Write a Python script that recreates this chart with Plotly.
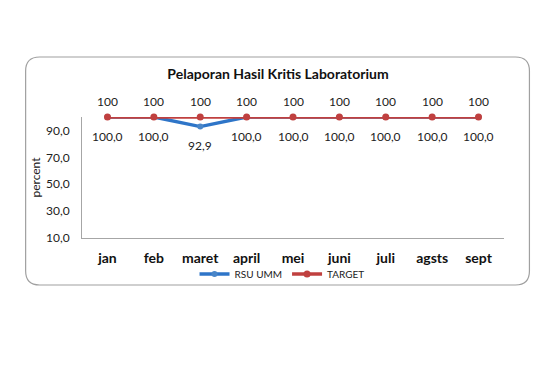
import plotly.graph_objects as go

months = ["jan", "feb", "maret", "april", "mei", "juni", "juli", "agsts", "sept"]
rsu_umm = [100.0, 100.0, 92.9, 100.0, 100.0, 100.0, 100.0, 100.0, 100.0]
target = [100, 100, 100, 100, 100, 100, 100, 100, 100]
y_ticks = [10, 30, 50, 70, 90]

OFF = 8  # page body margin
W, H = 560 - OFF, 370 - OFF
L, R, T, B = 81.5 - OFF, 504.5 - OFF, 117 - OFF, 238 - OFF
pw, ph = R - L, B - T

def px(x):
    return (x - OFF - L) / pw

def py(y):
    return (B - (y - OFF)) / ph

font = "Lato, 'Open Sans', sans-serif"

fig = go.Figure()
fig.add_trace(go.Scatter(
    x=months, y=rsu_umm, name="RSU UMM", mode="lines+markers",
    line=dict(color="#2E75C8", width=3.4),
    marker=dict(color="#4A86C8", size=6),
    cliponaxis=False,
))
fig.add_trace(go.Scatter(
    x=months, y=target, name="TARGET", mode="lines+markers",
    line=dict(color="#C0403F", width=3.4),
    marker=dict(color="#C0403F", size=7),
    cliponaxis=False,
))

annotations = []
for m, v in zip(months, rsu_umm):
    annotations.append(dict(x=m, y=v, xref="x", yref="y", showarrow=False,
                            text=f"{v:.1f}".replace(".", ","), yshift=-19,
                            font=dict(size=12, color="#222222", family=font)))
for m, v in zip(months, target):
    annotations.append(dict(x=m, y=v, xref="x", yref="y", showarrow=False,
                            text=str(v), yshift=16,
                            font=dict(size=12, color="#222222", family=font)))

# rounded chart border (screen pixel coords)
x0, x1, y0, y1, r = 25, 530, 57, 285, 14
def P(x, y):
    return f"{px(x):.5f},{py(y):.5f}"
path = (f"M {P(x0 + r, y0)} L {P(x1 - r, y0)} Q {P(x1, y0)} {P(x1, y0 + r)} "
        f"L {P(x1, y1 - r)} Q {P(x1, y1)} {P(x1 - r, y1)} "
        f"L {P(x0 + r, y1)} Q {P(x0, y1)} {P(x0, y1 - r)} "
        f"L {P(x0, y0 + r)} Q {P(x0, y0)} {P(x0 + r, y0)} Z")

fig.update_layout(
    width=W, height=H,
    margin=dict(l=L, r=W - R, t=T, b=H - B, autoexpand=False),
    paper_bgcolor="white", plot_bgcolor="white",
    separators=",.",
    font=dict(family=font, color="#222222"),
    title=dict(text="<b>Pelaporan Hasil Kritis Laboratorium</b>",
               x=(278 - OFF) / W, xanchor="center", xref="container",
               y=1 - (74 - OFF) / H, yanchor="middle", yref="container",
               font=dict(size=14, color="#111111", family=font)),
    xaxis=dict(showline=True, linecolor="#A6A6A6", linewidth=1,
               showgrid=False, ticks="", ticklabelstandoff=7,
               automargin=False,
               tickfont=dict(size=14, color="#111111", family=font),
               tickprefix="<b>", ticksuffix="</b>"),
    yaxis=dict(range=[10, 100], tickvals=y_ticks, tickformat=".1f",
               showline=True, linecolor="#A6A6A6", linewidth=1,
               showgrid=False, zeroline=False, ticks="", ticklabelstandoff=9,
               automargin=False,
               tickfont=dict(size=12, color="#222222", family=font),
               title=dict(text="percent", standoff=2,
                          font=dict(size=12, color="#222222", family=font))),
    legend=dict(orientation="h", x=px(282), xanchor="center",
                y=py(274), yanchor="middle", bgcolor="rgba(0,0,0,0)",
                font=dict(size=10, color="#222222", family=font),
                itemwidth=30, tracegroupgap=0),
    showlegend=True,
    annotations=annotations,
    shapes=[dict(type="path", path=path, xref="paper", yref="paper",
                 line=dict(color="#A0A0A0", width=1.2), layer="below")],
)

fig.write_html("out.html")
